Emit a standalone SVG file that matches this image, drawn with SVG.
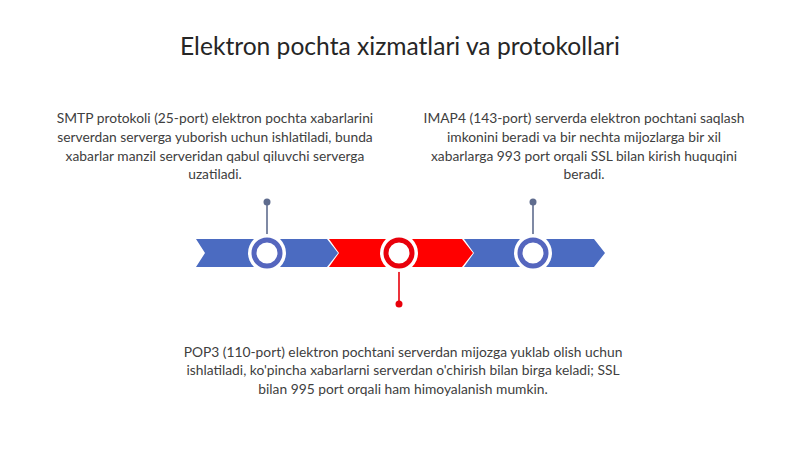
<svg xmlns="http://www.w3.org/2000/svg" width="800" height="449" viewBox="0 0 800 449">
<style>
text{font-family:Lato,"Liberation Sans",sans-serif;fill:#404040;text-anchor:middle}
.t{font-size:13.8px}
.title{font-size:24.6px;fill:#262626}
.blue{fill:#4b6bc1}
.red{fill:#ff0000}
.ringb{fill:#fff;stroke:#5566be;stroke-width:5}
.ringr{fill:#fff;stroke:#e8000b;stroke-width:5}
.halo{fill:#fff}
.pinb{stroke:#5f6c8e;stroke-width:1.6}
.pinr{stroke:#e8000b;stroke-width:1.6}
</style>
<rect width="800" height="449" fill="#fff"/>
<text class="title" x="400" y="55">Elektron pochta xizmatlari va protokollari</text>
<g id="band">
<polygon class="blue" points="196,239 327,239 338,253 327,267 196,267 205,253"/>
<polygon class="red" points="329,239 462,239 473,253 462,267 329,267 339,253"/>
<polygon class="blue" points="464,239 594,239 605,253 594,267 464,267 474,253"/>
</g>
<g id="connectors">
<line class="pinb" x1="267" y1="202" x2="267" y2="237"/>
<circle cx="267" cy="202" r="3.5" fill="#5f6c8e"/>
<line class="pinb" x1="533" y1="202" x2="533" y2="237"/>
<circle cx="533" cy="202" r="3.5" fill="#5f6c8e"/>
<line class="pinr" x1="399" y1="269" x2="399" y2="304"/>
<circle cx="399" cy="304" r="3.5" fill="#e8000b"/>
</g>
<g id="node-smtp">
<circle class="halo" cx="267" cy="253" r="19"/>
<circle class="ringb" cx="267" cy="253" r="13"/>
<text class="t" x="215" y="123">SMTP protokoli (25-port) elektron pochta xabarlarini</text>
<text class="t" x="215" y="142">serverdan serverga yuborish uchun ishlatiladi, bunda</text>
<text class="t" x="215" y="161">xabarlar manzil serveridan qabul qiluvchi serverga</text>
<text class="t" x="215" y="179">uzatiladi.</text>
</g>
<g id="node-pop3">
<circle class="halo" cx="399" cy="253" r="19"/>
<circle class="ringr" cx="399" cy="253" r="13"/>
<text class="t" x="403" y="357">POP3 (110-port) elektron pochtani serverdan mijozga yuklab olish uchun</text>
<text class="t" x="403" y="375">ishlatiladi, ko'pincha xabarlarni serverdan o'chirish bilan birga keladi; SSL</text>
<text class="t" x="403" y="394">bilan 995 port orqali ham himoyalanish mumkin.</text>
</g>
<g id="node-imap4">
<circle class="halo" cx="533" cy="253" r="19"/>
<circle class="ringb" cx="533" cy="253" r="13"/>
<text class="t" x="584" y="123">IMAP4 (143-port) serverda elektron pochtani saqlash</text>
<text class="t" x="584" y="142">imkonini beradi va bir nechta mijozlarga bir xil</text>
<text class="t" x="584" y="161">xabarlarga 993 port orqali SSL bilan kirish huquqini</text>
<text class="t" x="584" y="179">beradi.</text>
</g>
</svg>
